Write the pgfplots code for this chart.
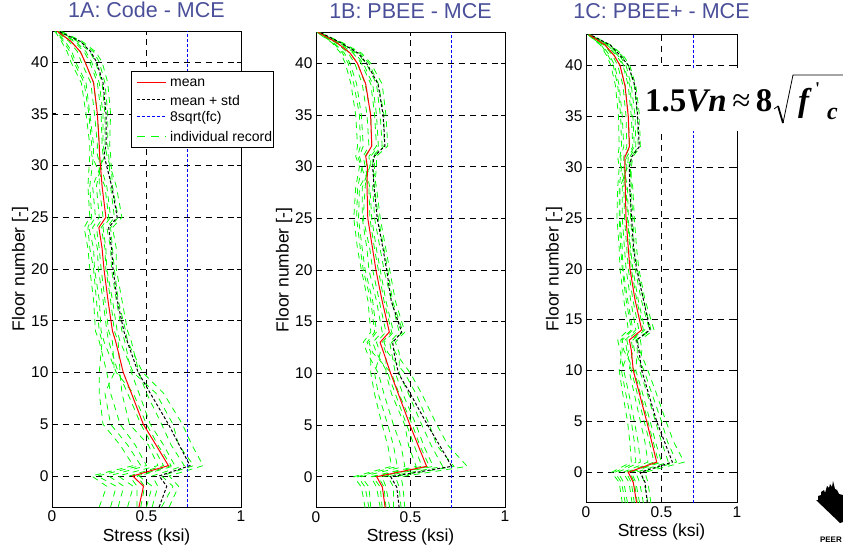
\documentclass[border=0pt]{standalone}
\usepackage{pgfplots}
\pgfplotsset{compat=1.18}
\usepackage{pgfplotstable}
\usepackage{fontspec}
\setmainfont{Liberation Sans}
\newfontfamily\timesfont{Liberation Serif}

\definecolor{titleblue}{rgb}{0.29,0.31,0.60}
\definecolor{recgreen}{rgb}{0.0,1.0,0.0}
\definecolor{meanred}{rgb}{1.0,0.0,0.0}
\definecolor{limblue}{rgb}{0.0,0.0,1.0}

% columns: floor, mean, mean+std, individual records r1..r10 (stress in ksi)
\pgfplotstableread{
f   m     s     r1   r2   r3   r4   r5   r6   r7   r8   r9   r10
-3  .46   .567  .25  .35  .40  .45  .50  .53  .58  .62  .31  .47
-1  .484  .607  .29  .38  .43  .45  .53  .56  .64  .67  .34  .49
0   .427  .567  .21  .30  .35  .41  .46  .53  .58  .62  .24  .45
1   .616  .73   .43  .50  .56  .59  .65  .70  .75  .80  .47  .63
3   .55   .673  .36  .44  .51  .53  .59  .63  .67  .74  .40  .56
5   .483  .616  .27  .36  .41  .47  .52  .58  .64  .69  .31  .50
8   .42   .52   .25  .31  .37  .40  .46  .50  .55  .59  .28  .43
10  .377  .456  .25  .29  .36  .35  .42  .46  .43  .48  .33  .34
13  .337  .398  .265 .25  .35  .30  .385 .42  .36  .40  .32  .275
14  .32   .38   .25  .23  .33  .29  .37  .40  .345 .39  .30  .26
17  .296  .345  .235 .22  .31  .27  .34  .37  .32  .35  .28  .25
20  .275  .323  .22  .20  .285 .245 .315 .34  .29  .33  .26  .225
22  .265  .315  .20  .19  .28  .24  .31  .34  .285 .32  .25  .22
24  .248  .30   .19  .17  .26  .215 .29  .32  .27  .31  .235 .195
25  .285  .345  .21  .20  .30  .25  .33  .37  .31  .35  .27  .23
28  .265  .316  .20  .19  .28  .235 .31  .34  .29  .32  .25  .215
31  .252  .275  .22  .20  .21  .27  .30  .29  .24  .31  .25  .28
32  .25   .286  .22  .20  .21  .265 .295 .28  .24  .305 .25  .27
35  .24   .286  .20  .18  .195 .26  .295 .28  .225 .31  .24  .27
38  .22   .27   .18  .155 .17  .24  .28  .265 .205 .295 .22  .25
40  .175  .236  .125 .10  .115 .20  .25  .23  .155 .265 .175 .21
41  .15   .205  .105 .08  .095 .17  .22  .20  .135 .23  .15  .18
42  .10   .15   .07  .05  .06  .115 .15  .135 .09  .16  .10  .125
43  .026  .03   .02  .015 .018 .03  .04  .035 .022 .045 .026 .032
}\tabA

\pgfplotstableread{
f   m     s     r1   r2   r3   r4   r5   r6   r7   r8   r9   r10
-3  .366  .44   .26  .29  .34  .35  .39  .41  .45  .47  .28  .37
-1  .351  .427  .24  .28  .32  .34  .37  .41  .44  .46  .26  .36
0   .321  .395  .20  .24  .29  .30  .35  .38  .42  .45  .22  .33
1   .585  .718  .40  .47  .53  .56  .62  .67  .73  .80  .43  .60
3   .541  .655  .38  .45  .49  .52  .57  .61  .64  .70  .41  .55
5   .497  .59   .35  .41  .47  .48  .53  .56  .60  .64  .38  .51
8   .436  .50   .31  .36  .40  .42  .46  .49  .53  .56  .33  .44
10  .395  .436  .29  .33  .37  .38  .42  .44  .47  .50  .31  .40
12  .358  .413  .29  .27  .37  .32  .40  .44  .38  .42  .34  .30
13  .339  .406  .27  .25  .35  .30  .39  .42  .36  .40  .32  .28
14  .388  .453  .31  .29  .40  .35  .44  .47  .41  .46  .37  .32
17  .35   .398  .29  .275 .36  .32  .40  .42  .37  .405 .335 .30
20  .317  .374  .25  .24  .33  .28  .36  .39  .34  .38  .30  .26
22  .30   .355  .235 .22  .31  .27  .34  .37  .32  .36  .285 .245
25  .274  .324  .215 .20  .285 .245 .31  .34  .295 .33  .25  .225
28  .27   .307  .22  .21  .28  .245 .30  .32  .285 .31  .26  .23
30  .272  .30   .245 .23  .24  .285 .31  .30  .26  .32  .27  .29
31  .263  .307  .23  .21  .22  .28  .31  .30  .25  .32  .26  .29
32  .295  .365  .25  .22  .235 .32  .36  .35  .28  .38  .295 .33
35  .289  .355  .24  .21  .23  .31  .36  .34  .27  .37  .29  .32
38  .263  .328  .215 .185 .20  .29  .33  .32  .245 .35  .26  .30
40  .219  .268  .18  .155 .17  .24  .28  .265 .205 .29  .22  .25
41  .18   .222  .15  .13  .14  .195 .23  .215 .17  .24  .18  .205
42  .11   .13   .094 .084 .09  .118 .134 .128 .104 .14  .11  .122
43  .01   .02   .006 .004 .005 .012 .016 .0145 .0085 .0175 .01 .013
}\tabB

\pgfplotstableread{
f   m     s     r1   r2   r3   r4   r5   r6   r7   r8   r9   r10
-3  .335  .406  .24  .275 .305 .32  .355 .38  .41  .43  .26  .34
-1  .313  .391  .22  .25  .285 .30  .33  .355 .385 .41  .235 .32
0   .28   .358  .17  .21  .245 .265 .30  .33  .365 .39  .19  .29
1   .468  .572  .30  .36  .41  .45  .50  .545 .60  .65  .33  .48
3   .435  .52   .29  .345 .39  .42  .46  .50  .54  .58  .32  .445
5   .402  .468  .275 .32  .36  .385 .425 .46  .50  .53  .30  .41
8   .349  .409  .24  .28  .315 .335 .37  .40  .43  .46  .26  .355
10  .313  .369  .22  .25  .285 .30  .33  .355 .385 .41  .235 .32
12  .30   .35   .24  .225 .31  .27  .34  .37  .32  .355 .285 .25
13  .287  .335  .23  .21  .30  .26  .33  .36  .31  .34  .27  .24
14  .369  .424  .30  .28  .38  .33  .42  .45  .39  .43  .35  .31
17  .324  .38   .265 .25  .335 .295 .365 .39  .345 .38  .31  .275
20  .291  .335  .24  .225 .30  .265 .325 .35  .31  .34  .28  .245
22  .28   .315  .23  .22  .29  .255 .31  .335 .295 .32  .27  .24
25  .265  .302  .22  .205 .275 .24  .295 .32  .28  .31  .255 .225
28  .26   .29   .22  .21  .265 .24  .29  .31  .275 .30  .25  .225
30  .258  .287  .235 .22  .23  .27  .295 .285 .25  .30  .26  .275
31  .258  .302  .23  .21  .225 .27  .30  .29  .25  .31  .26  .28
32  .287  .353  .25  .22  .235 .31  .345 .33  .27  .36  .29  .32
35  .28   .342  .24  .215 .23  .30  .34  .325 .265 .355 .28  .31
38  .258  .324  .22  .195 .21  .28  .32  .30  .245 .33  .26  .29
40  .225  .28   .19  .165 .18  .245 .28  .265 .21  .29  .225 .25
41  .185  .225  .155 .135 .145 .20  .235 .22  .175 .245 .185 .21
42  .126  .16   .106 .094 .101 .136 .156 .148 .118 .164 .126 .141
43  .02   .03   .016 .0135 .015 .022 .026 .0245 .0185 .0275 .02 .023
}\tabC

\tikzset{
  rec/.style={draw=recgreen, line width=0.8pt, dash pattern=on 6pt off 5pt},
  meanline/.style={draw=meanred, line width=1pt},
  stdline/.style={draw=black, line width=1pt, dash pattern=on 3pt off 2pt},
  limline/.style={draw=limblue, line width=1pt, dash pattern=on 3pt off 2pt},
}

\pgfplotsset{
  panel/.style={
    scale only axis,
    xmin=0, xmax=1, ymin=-3, ymax=43,
    xtick={0,0.5,1}, xticklabels={0,0.5,1},
    ytick={0,5,...,40},
    tick align=inside, xtick pos=both, ytick pos=both,
    major tick length=4pt,
    every tick/.style={black, line width=0.6pt},
    grid=major,
    major grid style={black, line width=0.5pt, dash pattern=on 6pt off 5pt},
    axis line style={line width=0.9pt},
    tick label style={font=\fontsize{15.5}{18}\selectfont},
    label style={font=\fontsize{17.5}{20}\selectfont},
    ylabel style={yshift=-4pt},
    /pgf/number format/assume math mode=true,
    xlabel={Stress (ksi)},
    ylabel={Floor number [-]},
    title style={font=\fontsize{21.5}{24}\selectfont, text=titleblue,
                 at={(0.5,1)}, anchor=base, inner sep=0pt, yshift=8pt},
  },
}

\begin{document}
\begin{tikzpicture}[x=1pt,y=1pt]
\useasboundingbox (0,0) rectangle (843,550);

% 1A
\begin{axis}[panel, at={(52pt,43pt)}, anchor=south west,
  width=189pt, height=476pt, title={1A: Code - MCE}]
\pgfplotsinvokeforeach{1,...,10}{\addplot[rec] table[x=r#1, y=f]{\tabA};}
\addplot[limline] coordinates {(0.715,-3) (0.715,43)};
\addplot[stdline] table[x=s, y=f]{\tabA};
\addplot[meanline] table[x=m, y=f]{\tabA};
\end{axis}

% legend of 1A, drawn over the panel and past its right edge
\begin{scope}[every node/.style={anchor=west, inner sep=0pt,
    font=\fontsize{14}{16}\selectfont}]
\filldraw[fill=white, draw=black, line width=0.8pt] (131,403) rectangle (273,479);
\draw[meanline] (137,467) -- (166,467);
\node at (170,467) {mean};
\draw[stdline] (137,450) -- (166,450);
\node at (170,450) {mean + std};
\draw[limline, line width=1.2pt] (137,433.5) -- (166,433.5);
\node at (170,432) {8sqrt(fc)};
\draw[rec, dash pattern=on 8pt off 6pt] (137,414) -- (166,414);
\node at (170,414) {individual record};
\end{scope}

% 1B
\begin{axis}[panel, at={(316pt,42.3pt)}, anchor=south west,
  width=189pt, height=475.4pt, title={1B: PBEE - MCE}]
\pgfplotsinvokeforeach{1,...,10}{\addplot[rec] table[x=r#1, y=f]{\tabB};}
\addplot[limline] coordinates {(0.715,-3) (0.715,43)};
\addplot[stdline] table[x=s, y=f]{\tabB};
\addplot[meanline] table[x=m, y=f]{\tabB};
\end{axis}

% 1C
\begin{axis}[panel, at={(586pt,47.2pt)}, anchor=south west,
  width=151pt, height=468pt, title={1C: PBEE+ - MCE},
  title style={yshift=2pt}]
\pgfplotsinvokeforeach{1,...,10}{\addplot[rec] table[x=r#1, y=f]{\tabC};}
\addplot[limline] coordinates {(0.715,-3) (0.715,43)};
\addplot[stdline] table[x=s, y=f]{\tabC};
\addplot[meanline] table[x=m, y=f]{\tabC};
\end{axis}

% shear capacity note
\fill[white] (640,419) rectangle (850,482);
\node[anchor=base west, inner sep=0pt] at (645,438)
  {\timesfont\fontsize{33}{33}\selectfont\bfseries 1.5\textit{Vn}\,{\mdseries ≈}\,8};
\draw[line width=0.8pt] (774,441) -- (778,444);
\draw[line width=1.8pt] (778,444) -- (783,427);
\draw[line width=0.8pt] (783,427) -- (793,475) -- (850,475);
\node[anchor=base west, inner sep=0pt] at (798,438)
  {\timesfont\fontsize{33}{33}\selectfont\bfseries\itshape f};
\node[anchor=base west, inner sep=0pt] at (815,455)
  {\timesfont\fontsize{18}{18}\selectfont\bfseries '};
\node[anchor=base west, inner sep=0pt] at (827,430)
  {\timesfont\fontsize{24}{24}\selectfont\bfseries\itshape c};

% logo
\fill[black] (816,50) -- (818,50) -- (818,54) -- (821,55) -- (821,58)
  -- (824,60) -- (825,57) -- (827,64) -- (829,62) -- (830,66)
  -- (832,63) -- (833,69) -- (835,61) -- (837,60) -- (839,56)
  -- (843,55) -- (843,28) -- (840,27) -- cycle;
\node[anchor=base east, inner sep=0pt] at (842,8)
  {\fontsize{8}{8}\selectfont\bfseries PEER};
\end{tikzpicture}
\end{document}
